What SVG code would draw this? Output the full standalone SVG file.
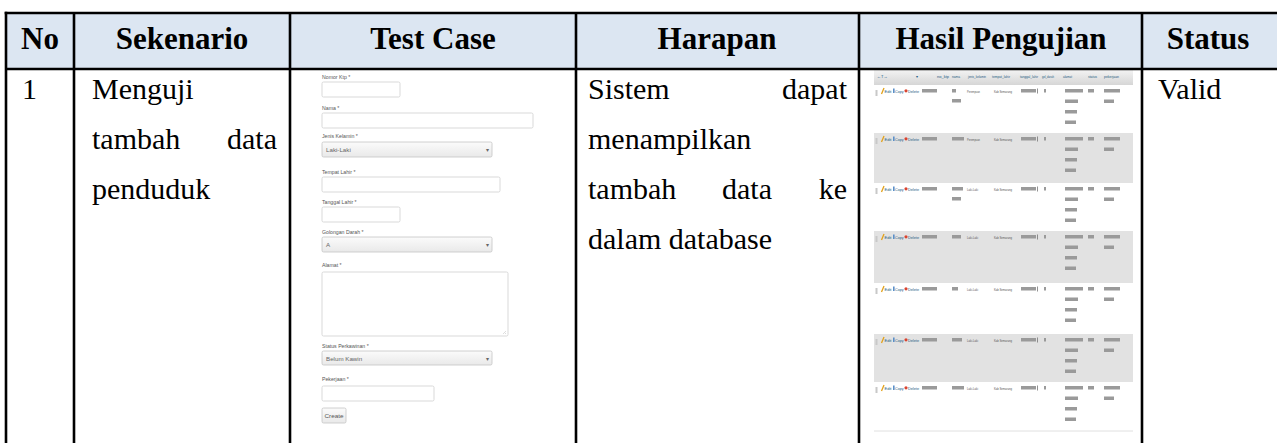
<svg xmlns="http://www.w3.org/2000/svg" width="1277" height="443" viewBox="0 0 1277 443">
<style>
.hd{font-family:"Liberation Serif","Times New Roman",serif;font-weight:bold;font-size:31px;fill:#000;text-anchor:middle}
.bd{font-family:"Liberation Serif","Times New Roman",serif;font-size:30px;fill:#000}
.ln{stroke:#000;stroke-width:2.6;fill:none}
.lbl{font-family:"Liberation Sans",Arial,sans-serif;font-size:5.2px;fill:#555}
.inp{fill:#fff;stroke:#cfcfcf;stroke-width:0.8}
.sel{fill:url(#selg);stroke:#c4c4c4;stroke-width:0.8}
.opt{font-family:"Liberation Sans",Arial,sans-serif;font-size:6.2px;fill:#666}
.ph{font-family:"Liberation Sans",Arial,sans-serif;font-size:4px;fill:#235a81}
.pd{font-family:"Liberation Sans",Arial,sans-serif;font-size:4px;fill:#555}
.blob{fill:#9a9a9a}
</style>
<defs>
<linearGradient id="selg" x1="0" y1="0" x2="0" y2="1">
<stop offset="0" stop-color="#fbfbfb"/><stop offset="1" stop-color="#e9e9e9"/>
</linearGradient>
<linearGradient id="hg" x1="0" y1="0" x2="0" y2="1">
<stop offset="0" stop-color="#f3f3f3"/><stop offset="1" stop-color="#d6d6d6"/>
</linearGradient>
<g id="rowtpl">
<rect x="875.5" y="5" width="2" height="6" fill="#c8c8c8"/>
<line x1="881.5" y1="9" x2="884" y2="3" stroke="#e3a21a" stroke-width="1.3"/>
<text class="ph" x="884.5" y="8" textLength="7" lengthAdjust="spacingAndGlyphs">Edit</text>
<rect x="893" y="3.5" width="1.6" height="4.5" fill="#5b8fc9"/>
<text class="ph" x="895" y="8" textLength="8.5" lengthAdjust="spacingAndGlyphs">Copy</text>
<circle cx="906" cy="5.8" r="1.6" fill="#d9432f"/>
<text class="ph" x="908" y="8" textLength="11" lengthAdjust="spacingAndGlyphs">Delete</text>
<rect class="blob" x="922" y="4" width="15" height="3.5"/>
<rect class="blob" x="1021" y="4" width="15" height="3.5"/>
<rect x="1037" y="3.5" width="0.8" height="5" fill="#777"/>
<rect class="blob" x="1044" y="4" width="2" height="3.5"/>
<rect class="blob" x="1065" y="4" width="18" height="3.5"/>
<rect class="blob" x="1065" y="14.5" width="13" height="3.5"/>
<rect class="blob" x="1065" y="25" width="12" height="3.5"/>
<rect class="blob" x="1065" y="35.5" width="11" height="3.5"/>
<rect class="blob" x="1088" y="4" width="6" height="3.5"/>
<rect class="blob" x="1104" y="4" width="16" height="3.5"/>
<rect class="blob" x="1104" y="14.5" width="10" height="3.5"/>
</g>
</defs>

<!-- header background -->
<rect id="header-bg" x="6" y="13" width="1271" height="56" fill="#dce6f2"/>

<!-- Test case form screenshot -->
<g id="testcase-form">
<rect x="317" y="70" width="231" height="362" fill="#fff"/>
<text class="lbl" x="322" y="79">Nomor Ktp *</text>
<rect class="inp" x="322" y="82" width="78" height="15" rx="1.5"/>
<text class="lbl" x="322" y="110">Nama *</text>
<rect class="inp" x="322" y="113" width="211" height="15" rx="1.5"/>
<text class="lbl" x="322" y="138">Jenis Kelamin *</text>
<rect class="sel" x="322" y="142" width="170" height="15" rx="1.5"/>
<text class="opt" x="326" y="152">Laki-Laki</text>
<text class="opt" x="486" y="152" fill="#aaa" font-size="5px">▾</text>
<text class="lbl" x="322" y="174">Tempat Lahir *</text>
<rect class="inp" x="322" y="177" width="178" height="15" rx="1.5"/>
<text class="lbl" x="322" y="204">Tanggal Lahir *</text>
<rect class="inp" x="322" y="207" width="78" height="15" rx="1.5"/>
<text class="lbl" x="322" y="234">Golongan Darah *</text>
<rect class="sel" x="322" y="237" width="170" height="15" rx="1.5"/>
<text class="opt" x="326" y="247">A</text>
<text class="opt" x="486" y="247" fill="#aaa" font-size="5px">▾</text>
<text class="lbl" x="322" y="267">Alamat *</text>
<rect class="inp" x="322" y="272" width="186" height="64" rx="1.5"/>
<line x1="503" y1="334" x2="506" y2="331" stroke="#bbb" stroke-width="0.5"/>
<line x1="505" y1="334" x2="506" y2="333" stroke="#bbb" stroke-width="0.5"/>
<text class="lbl" x="322" y="348">Status Perkawinan *</text>
<rect class="sel" x="322" y="351" width="170" height="14" rx="1.5"/>
<text class="opt" x="326" y="360.5">Belum Kawin</text>
<text class="opt" x="486" y="360.5" fill="#aaa" font-size="5px">▾</text>
<text class="lbl" x="322" y="381">Pekerjaan *</text>
<rect class="inp" x="322" y="386" width="112" height="15" rx="1.5"/>
<rect class="sel" x="322" y="408" width="24" height="15" rx="1.5"/>
<text class="lbl" x="324.5" y="417.5" textLength="19" lengthAdjust="spacingAndGlyphs">Create</text>
</g>

<!-- Hasil Pengujian screenshot -->
<g id="hasil-screenshot">
<rect x="874" y="70" width="259" height="15" fill="url(#hg)"/>
<text class="ph" x="877" y="78">←T→</text>
<text class="ph" x="916" y="78">▾</text>
<text class="ph" x="937" y="78" textLength="12" lengthAdjust="spacingAndGlyphs">no_ktp</text>
<text class="ph" x="952" y="78" textLength="8" lengthAdjust="spacingAndGlyphs">nama</text>
<text class="ph" x="968" y="78" textLength="18" lengthAdjust="spacingAndGlyphs">jenis_kelamin</text>
<text class="ph" x="992" y="78" textLength="18" lengthAdjust="spacingAndGlyphs">tempat_lahir</text>
<text class="ph" x="1020" y="78" textLength="18" lengthAdjust="spacingAndGlyphs">tanggal_lahir</text>
<text class="ph" x="1042" y="78" textLength="12" lengthAdjust="spacingAndGlyphs">gol_darah</text>
<text class="ph" x="1063" y="78" textLength="9" lengthAdjust="spacingAndGlyphs">alamat</text>
<text class="ph" x="1088" y="78" textLength="9" lengthAdjust="spacingAndGlyphs">status</text>
<text class="ph" x="1104" y="78" textLength="15" lengthAdjust="spacingAndGlyphs">pekerjaan</text>

<rect x="874" y="133" width="259" height="50" fill="#e2e2e2"/>
<rect x="874" y="231" width="259" height="52" fill="#e2e2e2"/>
<rect x="874" y="334" width="259" height="48" fill="#e2e2e2"/>
<line x1="874" y1="431" x2="1133" y2="431" stroke="#d8d8d8" stroke-width="0.8"/>

<use href="#rowtpl" y="85"/>
<use href="#rowtpl" y="133"/>
<use href="#rowtpl" y="183"/>
<use href="#rowtpl" y="231"/>
<use href="#rowtpl" y="283"/>
<use href="#rowtpl" y="334"/>
<use href="#rowtpl" y="382"/>

<rect class="blob" x="952" y="89" width="4" height="3.5"/><rect class="blob" x="952" y="99" width="9" height="3.5"/>
<text class="pd" x="967" y="93" textLength="13" lengthAdjust="spacingAndGlyphs">Perempuan</text>
<text class="pd" x="994" y="93" textLength="18" lengthAdjust="spacingAndGlyphs">Kab Semarang</text>

<rect class="blob" x="952" y="137" width="12" height="3.5"/>
<text class="pd" x="967" y="141" textLength="13" lengthAdjust="spacingAndGlyphs">Perempuan</text>
<text class="pd" x="994" y="141" textLength="18" lengthAdjust="spacingAndGlyphs">Kab Semarang</text>

<rect class="blob" x="952" y="187" width="11" height="3.5"/><rect class="blob" x="952" y="197" width="9" height="3.5"/>
<text class="pd" x="967" y="191" textLength="11" lengthAdjust="spacingAndGlyphs">Laki-Laki</text>
<text class="pd" x="994" y="191" textLength="18" lengthAdjust="spacingAndGlyphs">Kab Semarang</text>

<rect class="blob" x="952" y="235" width="9" height="3.5"/>
<text class="pd" x="967" y="239" textLength="11" lengthAdjust="spacingAndGlyphs">Laki-Laki</text>
<text class="pd" x="994" y="239" textLength="18" lengthAdjust="spacingAndGlyphs">Kab Semarang</text>

<rect class="blob" x="952" y="287" width="6" height="3.5"/>
<text class="pd" x="967" y="291" textLength="11" lengthAdjust="spacingAndGlyphs">Laki-Laki</text>
<text class="pd" x="994" y="291" textLength="18" lengthAdjust="spacingAndGlyphs">Kab Semarang</text>

<rect class="blob" x="952" y="338" width="10" height="3.5"/>
<text class="pd" x="967" y="342" textLength="11" lengthAdjust="spacingAndGlyphs">Laki-Laki</text>
<text class="pd" x="994" y="342" textLength="18" lengthAdjust="spacingAndGlyphs">Kab Semarang</text>

<rect class="blob" x="952" y="386" width="12" height="3.5"/>
<text class="pd" x="967" y="390" textLength="11" lengthAdjust="spacingAndGlyphs">Laki-Laki</text>
<text class="pd" x="994" y="390" textLength="18" lengthAdjust="spacingAndGlyphs">Kab Semarang</text>
</g>

<!-- table grid -->
<g id="grid">
<line class="ln" x1="4.7" y1="13" x2="1277" y2="13"/>
<line class="ln" x1="6" y1="69" x2="1277" y2="69"/>
<line class="ln" x1="6" y1="11.7" x2="6" y2="443"/>
<line class="ln" x1="74" y1="13" x2="74" y2="443"/>
<line class="ln" x1="290" y1="13" x2="290" y2="443"/>
<line class="ln" x1="576" y1="13" x2="576" y2="443"/>
<line class="ln" x1="859" y1="13" x2="859" y2="443"/>
<line class="ln" x1="1142" y1="13" x2="1142" y2="443"/>
</g>

<!-- header texts -->
<g id="header">
<text class="hd" x="40" y="49">No</text>
<text class="hd" x="182" y="49">Sekenario</text>
<text class="hd" x="433" y="49">Test Case</text>
<text class="hd" x="717" y="49">Harapan</text>
<text class="hd" x="1001" y="49">Hasil Pengujian</text>
<text class="hd" x="1208" y="49">Status</text>
</g>

<!-- row 1 texts -->
<g id="row1">
<text class="bd" x="22" y="99">1</text>
<text class="bd" x="92" y="99">Menguji</text>
<text class="bd" x="92" y="149">tambah</text>
<text class="bd" x="277" y="149" text-anchor="end">data</text>
<text class="bd" x="92" y="199">penduduk</text>
<text class="bd" x="588" y="99">Sistem</text>
<text class="bd" x="847" y="99" text-anchor="end">dapat</text>
<text class="bd" x="588" y="149">menampilkan</text>
<text class="bd" x="588" y="199">tambah</text>
<text class="bd" x="722" y="199">data</text>
<text class="bd" x="847" y="199" text-anchor="end">ke</text>
<text class="bd" x="588" y="249">dalam database</text>
<text class="bd" x="1158" y="99">Valid</text>
</g>
</svg>
